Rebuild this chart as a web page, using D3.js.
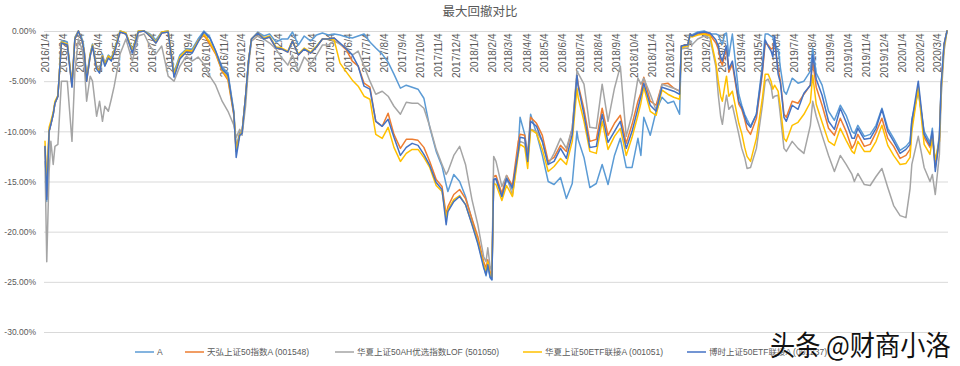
<!DOCTYPE html>
<html><head><meta charset="utf-8">
<script src="https://cdn.jsdelivr.net/npm/d3@7"></script>
<style>body{margin:0;background:#fff}svg{display:block}</style>
</head><body>
<svg id="chart" width="960" height="366"></svg>
<script>
const dates = ["2016-01-04","2016-01-07","2016-01-11","2016-01-14","2016-01-18","2016-01-21","2016-01-26","2016-02-01","2016-02-11","2016-02-19",
"2016-02-24","2016-03-01","2016-03-08","2016-03-11","2016-03-15","2016-03-21","2016-03-25","2016-04-01","2016-04-06","2016-04-11",
"2016-04-15","2016-04-21","2016-04-26","2016-05-01","2016-05-11","2016-05-21","2016-06-01","2016-06-11","2016-06-21","2016-07-01",
"2016-07-11","2016-07-21","2016-08-01","2016-08-11","2016-08-21","2016-09-01","2016-09-11","2016-09-21","2016-10-01","2016-10-11",
"2016-10-21","2016-11-01","2016-11-11","2016-11-21","2016-11-25","2016-12-01","2016-12-05","2016-12-11","2016-12-16","2016-12-21",
"2017-01-01","2017-01-11","2017-01-21","2017-02-01","2017-02-11","2017-02-21","2017-03-01","2017-03-11","2017-03-21","2017-04-01",
"2017-04-11","2017-04-21","2017-05-01","2017-05-11","2017-05-21","2017-06-01","2017-06-11","2017-06-21","2017-07-01","2017-07-11",
"2017-07-21","2017-08-01","2017-08-11","2017-08-21","2017-09-01","2017-09-11","2017-09-21","2017-10-01","2017-10-11","2017-10-21",
"2017-11-01","2017-11-11","2017-11-18","2017-11-21","2017-12-01","2017-12-11","2017-12-21","2018-01-01","2018-01-11","2018-01-21",
"2018-01-25","2018-01-28","2018-02-01","2018-02-04","2018-02-07","2018-02-11","2018-02-21","2018-03-01","2018-03-11","2018-03-21",
"2018-03-24","2018-04-01","2018-04-06","2018-04-11","2018-04-21","2018-05-01","2018-05-11","2018-05-21","2018-06-01","2018-06-11",
"2018-06-21","2018-06-29","2018-07-01","2018-07-11","2018-07-21","2018-08-01","2018-08-11","2018-08-21","2018-09-01","2018-09-11",
"2018-09-21","2018-10-01","2018-10-11","2018-10-16","2018-10-21","2018-11-01","2018-11-11","2018-11-21","2018-12-01","2018-12-11",
"2018-12-21","2018-12-24","2019-01-01","2019-01-04","2019-01-08","2019-01-11","2019-01-21","2019-02-01","2019-02-11","2019-02-21",
"2019-02-25","2019-03-01","2019-03-04","2019-03-08","2019-03-11","2019-03-15","2019-03-21","2019-04-01","2019-04-06","2019-04-11",
"2019-04-15","2019-04-21","2019-05-01","2019-05-11","2019-05-16","2019-05-21","2019-05-26","2019-05-29","2019-06-01","2019-06-07",
"2019-06-11","2019-06-17","2019-06-21","2019-07-01","2019-07-11","2019-07-21","2019-08-01","2019-08-05","2019-08-11","2019-08-21",
"2019-09-01","2019-09-11","2019-09-21","2019-10-01","2019-10-11","2019-10-15","2019-10-21","2019-11-01","2019-11-11","2019-11-21",
"2019-12-01","2019-12-11","2019-12-21","2020-01-01","2020-01-11","2020-01-18","2020-01-21","2020-02-01","2020-02-11","2020-02-21",
"2020-02-25","2020-03-01","2020-03-08","2020-03-11","2020-03-16","2020-03-21"];

// drawdown values in percent
const seriesA = [-11.5,-17,-10,-9.3,-8.3,-7.2,-6.5,-1,-1.1,-5.3,
-0.6,0,-0.9,-2,-4.6,-2.3,-1.3,-3.5,-3.9,-2.3,
-3.2,-2.4,-2.7,-1.9,0,-0.2,-1.9,0,0,-0.3,
-0.9,-0.1,0,-4.1,-2.4,-1.8,-1.8,-0.8,0,-0.6,
-2,-3.6,-4.2,-8,-11.6,-10.1,-10,-6.5,-3,-0.8,
-0.1,-0.5,-0.3,-1.1,-0.8,-0.8,-0.1,-1.4,-0.5,-1,
-0.4,-0.2,-0.4,-0.3,-0.4,-0.6,-0.7,-0.5,-0.3,-1.1,
-1.7,-2.3,-3.1,-4.3,-5.7,-5.4,-5.6,-5.8,-6.7,-9.6,
-12,-13.5,-15.3,-16,-14.3,-15,-16.5,-18.8,-21,-23.4,
-24.4,-23.3,-24.6,-24.8,-14.8,-14.8,-16.5,-14.8,-15.8,-11.6,
-8.6,-10.3,-12.4,-8.3,-10.2,-12.4,-15,-15.3,-14.6,-16.7,
-15.2,-10,-10.8,-12.6,-15.6,-15.2,-13.3,-15.3,-12.4,-10.7,
-13.6,-13.6,-10.7,-12.4,-8.6,-10.4,-8,-6.6,-7.2,-7,
-8.3,-1.5,-1.4,-1.4,-0.3,-0.4,-0.1,0,-0.3,-0.3,
-0.4,-1,-1.3,-0.3,-0.2,-2.5,-0.3,-6.3,-7.4,-8.3,
-8.8,-9.5,-8.3,-3.5,-0.3,-0.3,-0.5,-0.6,-1.5,-1.8,
-3.7,-6,-6.3,-4.7,-5.2,-5,-4,-1.7,-4.2,-5.4,
-8,-8.9,-7.4,-8.4,-10,-10.2,-9.4,-10.5,-10.3,-9.4,
-7.7,-9.7,-10.7,-11.9,-11.5,-11,-8.8,-6,-10,-11.1,
-9.7,-13.4,-10.4,-5.4,-1.3,0];

const seriesTianhong = [-11.5,-16.5,-10,-9.3,-8.3,-7.2,-6.5,-1.2,-1.4,-5.5,
-0.8,0,-1.1,-2.2,-5,-2.5,-1.5,-3.6,-4,-2.5,
-3.4,-2.6,-2.9,-2.1,-0.1,-0.3,-2.1,-0.1,0,-0.5,
-1.2,-0.2,-0.1,-4.5,-2.7,-2,-2.1,-1,-0.4,-1.3,
-2.3,-4,-4.9,-8.4,-12,-10.3,-10.1,-6.5,-3,-0.8,
-0.2,-0.8,-0.6,-1.7,-1.8,-2.1,-1,-2.4,-1.8,-2.2,
-1.6,-0.8,-0.8,-0.7,-1.3,-1.9,-3,-3.5,-5.2,-5.6,
-9,-9.5,-8.2,-10.3,-11.7,-10.8,-10.8,-10.9,-11.6,-13,
-14.8,-15.5,-18.3,-17.5,-16.3,-15.8,-16.7,-18.7,-20.5,-23,
-23.6,-22.8,-24,-24.3,-14.5,-14.4,-16.2,-14.4,-15.4,-11,
-10.3,-10.4,-12.7,-8.6,-9.2,-10.4,-13,-12.6,-11.4,-12,
-9.7,-4.4,-5.3,-7.8,-11,-10.8,-7.7,-10.4,-9.2,-8.4,
-11.2,-9.3,-7,-6.2,-4.6,-7,-7.4,-5.3,-5.2,-5.7,
-6,-1.5,-1.4,-1.4,-0.3,-0.5,-0.3,-0.2,-0.4,-1.2,
-1.8,-3,-3.4,-2.3,-1.8,-4.1,-3.3,-7.3,-7.8,-8.8,
-9.8,-10.3,-8.7,-4.3,-1.2,-1.4,-1.8,-1.7,-1.2,-3.8,
-5,-8.3,-8.6,-7,-7.2,-6.3,-5.4,-3,-5.6,-7.4,
-9.7,-10.4,-8.7,-10,-11.7,-11.3,-10.3,-11.5,-11.3,-10.1,
-8.7,-10.7,-11.5,-12.7,-12.4,-11.8,-9.4,-5.5,-10.6,-11.6,
-10.3,-13.6,-11,-5.6,-1.3,0];

const seriesHuaxiaAH = [-13,-23,-14,-11,-13.3,-11.5,-11.3,-5,-5,-11,
-4,-0.8,-2,-3.5,-7,-4.5,-5,-8.5,-7,-9,
-7.5,-8,-6.8,-5.5,-2.3,-0.8,-3,-0.5,-0.3,-1.5,
-2.3,-1.5,-4.5,-5,-3.5,-2.5,-3,-2.6,-3.3,-4.5,
-5.4,-7,-8,-9.4,-10.6,-9.8,-10.4,-7.5,-3.5,-1,
-0.5,-0.8,-1.2,-1.8,-2.7,-3.4,-2.4,-4,-2.6,-3.3,
-2.4,-1.4,-1.4,-1,-1.3,-1.7,-2.4,-2,-3.5,-5,
-6.3,-6,-6.5,-7.5,-8.3,-7.1,-7.2,-7.2,-7.7,-9.5,
-11.8,-13.3,-14.3,-14,-12.4,-11.5,-13.3,-16.8,-19.3,-22.5,
-23,-21.6,-23.5,-24,-12.5,-13,-15.5,-14.4,-16.4,-11.8,
-11,-11.2,-13,-9.8,-10,-11,-13.3,-12.2,-10.7,-11.7,
-9.7,-4,-4.2,-5.3,-9.6,-9.7,-5.3,-9,-5.7,-3.5,
-10.5,-8.3,-4.7,-5.3,-4.7,-6.3,-7.9,-5.3,-5.5,-5.7,
-6,-1.8,-1.7,-1.7,-1,-1.4,-0.8,-0.5,-0.7,-3.6,
-6.4,-8.5,-9.3,-7.5,-6.4,-7.8,-7.4,-10.3,-11.7,-12.6,
-13.7,-13.6,-11.7,-7.5,-5,-4.8,-5.5,-6.7,-6.5,-6.4,
-8.5,-11.7,-12,-11,-11.7,-12.2,-9.4,-7,-8.5,-10.4,
-12.4,-14,-12.4,-13.3,-14.3,-15,-14.2,-15.3,-15.4,-14.5,
-13.7,-15.6,-17.4,-18.4,-18.6,-15.7,-13.3,-10.5,-13.6,-15,
-14.3,-16.3,-12.3,-6.6,-2,0];

const seriesHuaxiaETF = [-11,-15.5,-9.6,-9,-8.1,-7,-6.4,-1.1,-1.3,-5.3,
-0.7,0,-1.1,-2.1,-4.9,-2.3,-1.4,-3.7,-4.1,-2.5,
-3.3,-2.5,-2.8,-2,0,-0.2,-2,0,0,-0.4,
-1.1,-0.1,0,-4.3,-2.6,-1.9,-2,-1,-0.3,-1.1,
-2.2,-3.9,-4.7,-8.2,-12,-10.3,-10.1,-6.5,-3,-0.8,
-0.2,-0.7,-0.5,-1.6,-1.7,-2,-1,-2.3,-1.7,-2.1,
-1.5,-0.8,-0.8,-0.9,-3.2,-4.1,-4.9,-5.5,-6.5,-6.8,
-10.3,-10.7,-9.6,-11.6,-13,-12.2,-11.8,-11.8,-12.6,-13.6,
-15.4,-16,-18.6,-17.8,-16.8,-16.4,-17.3,-19.2,-21,-23.3,
-24,-23,-24.3,-24.5,-15.2,-15.3,-16.9,-15.4,-16.5,-12.3,
-11.3,-11.6,-13.7,-9.8,-10.2,-11.8,-14,-13.5,-12.7,-13.3,
-11,-5.7,-6.6,-9,-12,-12.2,-9,-11.8,-10.5,-9.7,
-12.4,-10.6,-8.4,-7.2,-5.6,-8,-8.4,-5.9,-6.3,-6.6,
-6.8,-1.7,-1.5,-1.5,-0.4,-0.6,-0.4,-0.3,-0.5,-3.2,
-5,-6.5,-7,-5.5,-4.5,-6.5,-6,-9.2,-10.2,-11.6,
-12.5,-13,-10.7,-6.8,-4.3,-4.3,-5,-5.8,-5.4,-6,
-7.6,-10.7,-11,-9.4,-9.1,-8.3,-7.1,-4.4,-7.3,-9.1,
-11,-11.4,-9.7,-10.9,-12,-12.2,-11,-12,-12,-11,
-9.4,-11.4,-12.4,-13.3,-13.2,-12.6,-10,-5.7,-11.3,-12.3,
-10.7,-12.8,-11,-5.8,-1.6,0];

const seriesBoshi = [-11.5,-16.8,-10,-9.3,-8.3,-7.2,-6.5,-1.2,-1.4,-5.6,
-0.8,0,-1.1,-2.2,-5,-2.5,-1.5,-3.8,-4.2,-2.6,
-3.5,-2.7,-3,-2.2,-0.1,-0.3,-2.2,-0.1,0,-0.5,
-1.2,-0.2,-0.1,-4.6,-2.8,-2.1,-2.2,-1.1,-0.1,-0.7,
-2,-3.8,-4.4,-8.2,-12.6,-10.4,-10.2,-6.5,-3,-0.8,
-0.2,-0.8,-0.6,-1.7,-1.8,-2.1,-1,-2.4,-1.8,-2.2,
-1.6,-0.8,-0.8,-0.7,-1.2,-1.8,-2.4,-3.5,-5.5,-5.8,
-9,-9.5,-8.8,-10.6,-12.4,-11.6,-11.2,-11.4,-12.3,-13.4,
-15.1,-15.8,-19.3,-18,-17,-16.5,-17.3,-19.3,-21.2,-23.6,
-24.3,-23.3,-24.5,-24.8,-14.8,-14.7,-16.5,-14.7,-15.6,-12,
-10.6,-10.7,-13,-9,-9.5,-11,-13.3,-13,-11.7,-12.7,
-10.3,-4.4,-5.5,-8.3,-11.6,-11.5,-8.3,-11.1,-10,-9,
-11.7,-10,-7.7,-6.5,-5.2,-7.4,-8,-5.6,-5.8,-6,
-6.3,-1.5,-1.4,-1.4,-0.3,-0.5,-0.2,-0.1,-0.2,-0.9,
-1.5,-2.6,-3,-2,-1.5,-3.8,-3,-7,-7.6,-8.5,
-9.2,-9.6,-8.3,-4,-0.9,-1.5,-2,-2.6,-0.5,-4.3,
-5.2,-8.6,-9,-7.4,-7.8,-6.2,-5.4,-2.4,-4.8,-6.4,
-9,-9.8,-7.7,-9.1,-10.7,-10.7,-9.7,-10.8,-10.7,-9.7,
-7.8,-10,-11,-12.2,-11.8,-11.3,-9,-5,-10.3,-11.4,
-10,-14,-10.6,-5.4,-1.3,0];

const seriesNames = ["A","天弘上证50指数A (001548)","华夏上证50AH优选指数LOF (501050)","华夏上证50ETF联接A (001051)","博时上证50ETF联接A (001237)"];
const seriesColors = ["#5B9BD5","#ED7D31","#A5A5A5","#FFC000","#4472C4"];
const yTicks = [0,-5,-10,-15,-20,-25,-30];
const titleText = "最大回撤对比";
const watermark = "头条 @财商小洛";

(function draw() {
  const parse = d3.utcParse("%Y-%m-%d");
  const parsedDates = dates.map(parse);
  const allSeries = [seriesA, seriesTianhong, seriesHuaxiaAH, seriesHuaxiaETF, seriesBoshi].map((vals, i) => ({
    name: seriesNames[i], color: seriesColors[i],
    points: vals.map((v, j) => ({date: parsedDates[j], v}))
  }));

  const svg = d3.select("#chart");
  const plotL = 45, plotR = 947.6, plotT = 31, plotB = 332;
  const x = d3.scaleUtc().domain([parse("2016-01-04"), parse("2020-03-22")]).range([plotL, plotR]);
  const y = d3.scaleLinear().domain([-30, 0]).range([plotB, plotT]);

  const latin = "'Liberation Sans', Arial, 'Noto Sans CJK SC', sans-serif";
  const cjk = "'Noto Sans CJK SC', 'Liberation Sans', sans-serif";

  // title
  svg.append("text").attr("x", 480).attr("y", 15.5).attr("text-anchor", "middle")
    .attr("font-family", cjk).attr("font-size", 12.5).attr("fill", "#595959").text(titleText);

  // y axis with gridlines
  const yAxis = d3.axisLeft(y).tickValues(yTicks).tickSizeInner(-(948 - 44)).tickSizeOuter(0).tickPadding(8)
    .tickFormat(d => d.toFixed(2) + "%");
  const gy = svg.append("g").attr("transform", "translate(44,0)").call(yAxis);
  gy.select(".domain").remove();
  gy.selectAll(".tick line").attr("stroke", "#d9d9d9").attr("stroke-width", 1);
  gy.selectAll(".tick text").attr("font-family", latin).attr("font-size", 8.5).attr("fill", "#595959");

  // x axis labels (rotated, hanging below the 0% line)
  const tickDates = d3.utcMonth.range(parse("2016-01-01"), parse("2020-03-02")).map(m => d3.utcDay.offset(m, 3));
  const xAxis = d3.axisTop(x).tickValues(tickDates).tickSize(0).tickFormat(d3.utcFormat("%Y/%-m/%-d"));
  const gx = svg.append("g").attr("transform", `translate(0,${plotT})`).call(xAxis);
  gx.select(".domain").remove();
  gx.selectAll(".tick text")
    .attr("transform", "rotate(-90)")
    .attr("x", -2.5).attr("y", 0).attr("dy", "0.35em")
    .attr("text-anchor", "end")
    .attr("font-family", latin).attr("font-size", 10).attr("fill", "#595959");

  // lines
  const line = d3.line().x(d => x(d.date)).y(d => y(d.v));
  svg.append("g").selectAll("path").data(allSeries).join("path")
    .attr("d", d => line(d.points))
    .attr("fill", "none").attr("stroke", d => d.color)
    .attr("stroke-width", 1.5).attr("stroke-linejoin", "round").attr("stroke-linecap", "round");

  // legend
  const legendX = [135, 185, 335, 523, 687];
  const lg = svg.append("g").selectAll("g").data(allSeries).join("g")
    .attr("transform", (d, i) => `translate(${legendX[i]},352)`);
  lg.append("line").attr("x1", 0).attr("x2", 19).attr("y1", 0).attr("y2", 0)
    .attr("stroke", d => d.color).attr("stroke-width", 1.5);
  lg.append("text").attr("x", 22).attr("dy", "0.35em")
    .attr("font-family", latin).attr("font-size", 8.5).attr("fill", "#595959").text(d => d.name);

  // watermark (overlays the end of the legend, as in the reference)
  svg.append("text").attr("transform", "translate(770,356) scale(0.9,1)")
    .attr("font-family", cjk).attr("font-size", 28).attr("fill", "#111")
    .attr("stroke", "#fff").attr("stroke-width", 0.6).attr("paint-order", "stroke")
    .text(watermark);
})();
</script>
</body></html>
